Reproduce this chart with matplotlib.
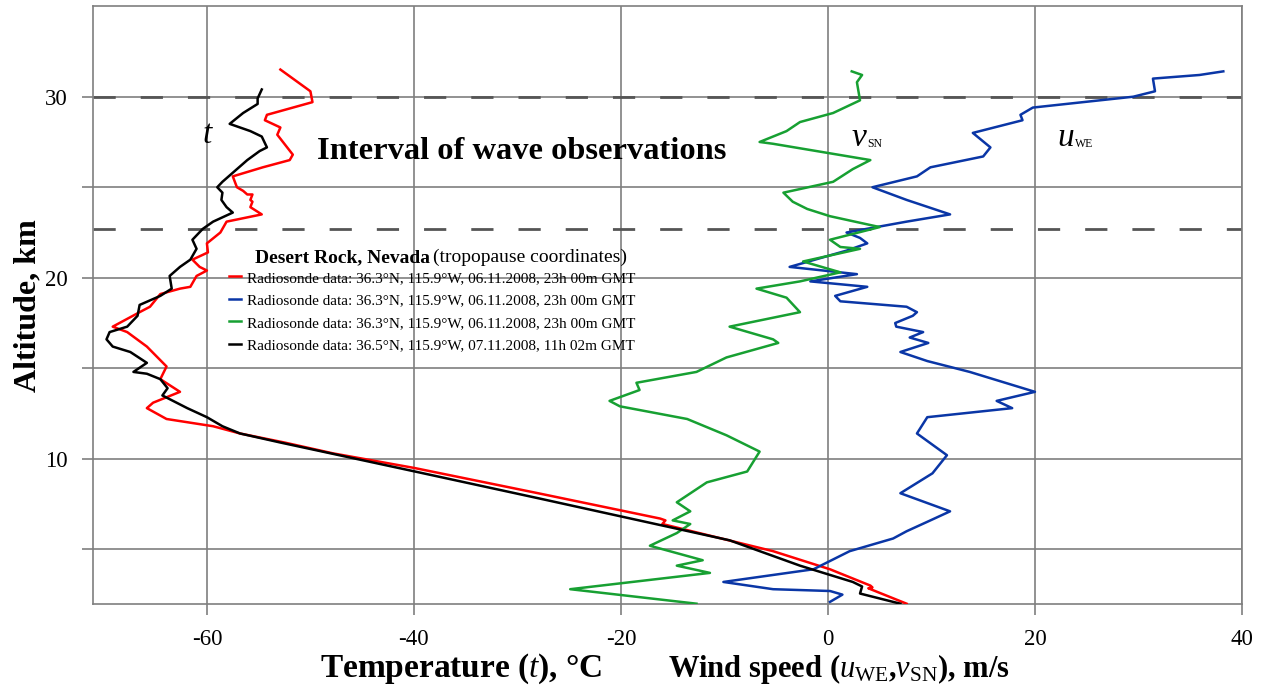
import numpy as np
import matplotlib
matplotlib.use('Agg')
import matplotlib.pyplot as plt

plt.rcParams['font.family'] = ['Liberation Serif', 'DejaVu Serif']
plt.rcParams['mathtext.fontset'] = 'custom'
plt.rcParams['mathtext.rm'] = 'Liberation Serif'
plt.rcParams['mathtext.it'] = 'Liberation Serif:italic'
plt.rcParams['mathtext.bf'] = 'Liberation Serif:bold'
plt.rcParams['axes.unicode_minus'] = False

# temperature, 06.11.2008 23h (red)
t1_alt = [31.5, 30.3, 29.7, 29.0, 28.7, 28.3, 27.9, 26.8, 26.5, 26.1, 25.6, 25.0, 24.8, 24.6,
          24.6, 24.3, 24.2, 23.9, 23.5, 23.1, 22.5, 21.9, 21.4, 21.0, 20.6, 20.4, 20.1, 19.5,
          19.4, 19.1, 18.4, 18.1, 17.3, 17.0, 16.2, 15.1, 14.4, 13.7, 13.1, 12.8, 12.2, 11.8,
          11.4, 10.9, 10.3, 9.5, 8.1, 6.7, 6.6, 6.4, 4.9, 3.9, 3.0, 2.9, 2.85, 2.0]
t1_val = [-52.9, -50.0, -49.8, -54.2, -54.4, -52.9, -53.2, -51.7, -52.0, -54.6, -57.5, -57.1,
          -56.5, -56.1, -55.6, -55.8, -55.6, -55.8, -54.7, -58.1, -58.7, -60.0, -59.9, -61.4,
          -60.7, -60.0, -61.0, -61.6, -62.6, -64.5, -65.5, -66.5, -69.1, -67.7, -65.8, -63.9,
          -64.5, -62.6, -65.2, -65.8, -63.9, -59.4, -56.8, -52.5, -47.8, -40.0, -28.0, -16.2,
          -15.7, -16.0, -5.3, 0.2, 4.1, 4.3, 3.9, 7.6]

# temperature, 07.11.2008 11h (black)
t2_alt = [30.4, 29.9, 29.6, 29.1, 28.5, 28.1, 27.8, 27.2, 27.0, 26.5, 25.8, 25.3, 25.0, 24.7,
          24.3, 23.9, 23.6, 23.1, 22.7, 22.1, 21.6, 21.0, 20.6, 20.1, 19.4, 19.0, 18.5, 17.9,
          17.3, 17.0, 16.6, 16.2, 15.9, 15.3, 14.8, 14.7, 14.4, 13.9, 13.5, 12.8, 12.3, 11.8,
          11.4, 10.9, 9.3, 7.8, 5.5, 4.1, 3.2, 2.95, 2.56, 2.1, 2.0]
t2_val = [-54.7, -55.1, -55.1, -56.5, -57.8, -55.8, -54.7, -54.2, -54.9, -56.1, -57.5, -58.5,
          -59.0, -58.5, -58.6, -58.1, -57.5, -59.4, -60.4, -61.4, -61.0, -61.6, -62.6, -63.6,
          -63.4, -64.5, -66.5, -66.7, -67.7, -69.4, -69.7, -69.1, -67.4, -65.8, -67.1, -65.8,
          -64.5, -63.8, -64.3, -61.9, -60.0, -58.5, -56.8, -52.9, -39.9, -27.8, -9.5, -2.7,
          2.4, 3.3, 3.1, 6.3, 7.0]

# wind u_WE (blue)
u_alt = [31.4, 31.2, 31.0, 30.3, 30.0, 29.4, 29.0, 28.7, 28.0, 27.2, 26.7, 26.1, 25.6, 25.0,
         24.3, 23.5, 23.1, 22.5, 22.2, 21.9, 21.7, 21.5, 20.6, 20.2, 19.8, 19.5, 19.0, 18.7,
         18.4, 18.1, 17.9, 17.5, 17.3, 17.0, 16.7, 16.4, 15.9, 15.4, 14.8, 13.7, 13.2, 12.8,
         12.3, 11.4, 10.2, 9.2, 8.1, 7.1, 6.6, 6.0, 5.6, 4.9, 3.9, 3.2, 2.8, 2.7, 2.5, 2.1]
u_val = [38.2, 35.9, 31.4, 31.6, 29.5, 19.8, 18.6, 18.8, 14.0, 15.7, 15.0, 9.9, 8.6, 4.3, 7.6,
         11.8, 7.6, 1.8, 3.1, 3.8, 2.8, 1.8, -3.7, 2.8, -1.7, 3.8, 0.7, 1.2, 7.6, 8.6, 8.2, 6.5,
         6.6, 9.2, 7.9, 9.7, 7.0, 9.6, 13.7, 20.0, 16.3, 17.8, 9.6, 8.6, 11.5, 10.1, 7.0, 11.8,
         9.9, 7.6, 6.3, 2.1, -1.4, -10.1, -5.3, 0.2, 1.4, 0.2]

# wind v_SN (green)
v_alt = [31.4, 31.2, 30.8, 29.8, 29.1, 28.6, 28.1, 27.5, 27.4, 26.5, 26.0, 25.3, 24.7, 24.2,
         23.8, 23.4, 22.8, 22.1, 21.7, 21.6, 20.9, 20.3, 19.8, 19.4, 18.9, 18.1, 17.3, 16.6,
         16.4, 15.6, 14.8, 14.2, 13.8, 13.2, 12.9, 12.2, 11.3, 10.4, 9.3, 8.7, 7.6, 7.1, 6.6,
         6.4, 5.9, 5.2, 4.4, 4.1, 3.7, 2.8, 2.0]
v_val = [2.3, 3.3, 2.8, 3.1, 0.5, -2.7, -4.0, -6.6, -5.3, 4.1, 2.4, 0.5, -4.3, -3.4, -2.0, 0.2,
         5.0, 0.2, 1.2, 3.1, -2.4, 1.2, -2.7, -6.9, -4.0, -2.7, -9.5, -5.3, -4.8, -9.8, -12.7,
         -18.5, -18.2, -21.1, -20.1, -13.6, -9.8, -6.6, -7.8, -11.7, -14.6, -13.3, -15.0,
         -13.3, -14.6, -17.2, -12.1, -14.6, -11.4, -24.9, -12.7]

interval = [30.0, 22.7]
lbl = 'Radiosonde data: 36.3°N, 115.9°W, 06.11.2008, 23h 00m GMT'
lbl2 = 'Radiosonde data: 36.5°N, 115.9°W, 07.11.2008, 11h 02m GMT'

fig = plt.figure(figsize=(12.66, 6.86), dpi=100)
ax = fig.add_axes([0.0735, 0.12, 0.9075, 0.871])

gc = '#7f7f7f'
ax.set_xlim(-71, 40)
ax.set_ylim(2, 35)
ax.set_xticks([-60, -40, -20, 0, 20, 40])
ax.set_yticks([10, 20, 30])
ax.set_yticks([5, 15, 25], minor=True)
ax.grid(True, which='both', color=gc, lw=1.2)
ax.set_axisbelow(True)
ax.tick_params(which='both', length=8, width=1.2, color=gc, labelsize=16.5)
ax.tick_params(axis='x', pad=10)
ax.tick_params(axis='y', pad=10)
for s in ax.spines.values():
    s.set_color(gc)
    s.set_linewidth(1.2)

for h in interval:
    ax.axhline(h, color='#555555', lw=2, ls=(0, (8, 9)), zorder=2)

ax.plot(t1_val, t1_alt, color='#ff0000', lw=1.8, label=lbl, zorder=3)
ax.plot(u_val, u_alt, color='#0a36a6', lw=1.8, label=lbl, zorder=3)
ax.plot(v_val, v_alt, color='#17a032', lw=1.8, label=lbl, zorder=3)
ax.plot(t2_val, t2_alt, color='black', lw=1.8, label=lbl2, zorder=4)

leg = ax.legend(loc='upper left', bbox_to_anchor=(0.113, 0.567), frameon=False,
                fontsize=11, handlelength=0.8, handletextpad=0.4, labelspacing=0.58,
                borderaxespad=0)
ax.text(-55.4, 21.13, 'Desert Rock, Nevada', fontsize=14, fontweight='bold', va='center')
ax.text(-38.2, 21.13, '(tropopause coordinates)', fontsize=14, va='center')

ax.text(-60, 27.9, 't', fontsize=24, style='italic', ha='center', va='center')
ax.text(-29.6, 27.0, 'Interval of wave observations', fontsize=23.4, fontweight='bold',
        ha='center', va='center')
ax.text(2.3, 27.3, 'v', fontsize=24, style='italic', va='baseline')
ax.text(3.8, 27.2, 'SN', fontsize=8.5, va='baseline')
ax.text(22.2, 27.3, 'u', fontsize=24, style='italic', va='baseline')
ax.text(23.9, 27.2, 'WE', fontsize=8.5, va='baseline')

fig.text(0.364, 0.013, r'Temperature ($\mathit{t}$), °C', fontsize=24, fontweight='bold',
         ha='center', va='baseline')
fig.text(0.6627, 0.013, r'Wind speed ($\mathit{u}_{\mathrm{WE}}$,$\mathit{v}_{\mathrm{SN}}$), m/s',
         fontsize=22, fontweight='bold', ha='center', va='baseline')
fig.text(0.022, 0.555, 'Altitude, km', fontsize=23, fontweight='bold', rotation=90,
         ha='center', va='center')

fig.savefig('out.png', dpi=100)
